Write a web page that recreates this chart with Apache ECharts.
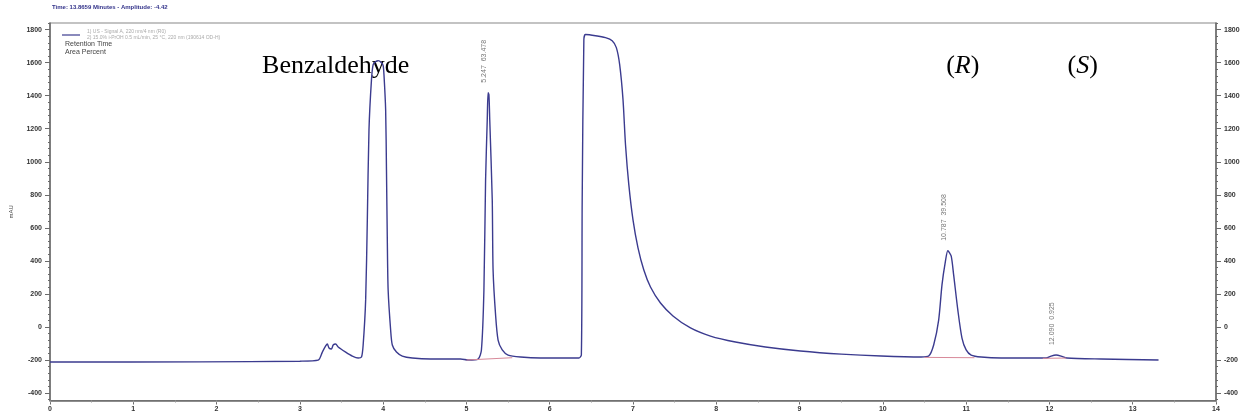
<!DOCTYPE html>
<html>
<head>
<meta charset="utf-8">
<script src="https://cdn.jsdelivr.net/npm/echarts@6/dist/echarts.min.js"></script>
<style>html,body{margin:0;padding:0;background:#fff}#c{width:1248px;height:417px}</style>
</head>
<body>
<div id="c"></div>
<script>
// ---- data (time in min, signal in mAU) ----
const times = [0.00,1.80,3.00,3.22,3.27,3.31,3.33,3.35,3.38,3.40,3.43,3.46,3.55,3.63,3.70,3.74,3.76,3.79,3.81,3.83,3.86,3.88,3.91,3.94,3.98,4.00,4.01,4.03,4.04,4.05,4.06,4.09,4.11,4.16,4.23,4.35,4.57,4.93,5.02,5.14,5.18,5.21,5.23,5.25,5.26,5.27,5.28,5.31,5.32,5.35,5.38,5.43,5.50,5.65,5.89,6.35,6.38,6.39,6.41,6.43,6.55,6.67,6.75,6.80,6.84,6.88,6.91,6.95,7.00,7.06,7.13,7.21,7.33,7.48,7.69,7.93,8.23,8.59,9.01,9.50,9.98,10.46,10.55,10.61,10.67,10.71,10.75,10.78,10.82,10.85,10.90,10.95,11.00,11.06,11.18,11.42,11.96,12.02,12.08,12.14,12.21,12.62,13.31];
const signal = [-212,-211,-207,-201,-152,-115,-103,-127,-133,-109,-103,-121,-152,-176,-188,-182,-109,164,648,1194,1497,1588,1606,1612,1600,1582,1527,1315,951,527,224,-18,-109,-152,-176,-188,-194,-194,-200,-194,-139,224,891,1254,1418,1406,1254,770,345,73,-79,-139,-170,-182,-188,-188,-170,770,1739,1770,1763,1751,1733,1691,1588,1376,1103,860,648,479,345,242,145,67,-6,-55,-91,-121,-145,-164,-176,-182,-176,-109,42,255,394,461,430,315,103,-67,-139,-170,-182,-188,-188,-176,-170,-176,-188,-194,-200];
// integration baselines (red)
const baseTimes = [5.00,5.55,null,10.50,11.10,null,11.92,12.20];
const baseValues = [-200,-186,null,-184,-186,null,-190,-188];
// peak annotations
const peakTimes = [5.26,10.78,12.08];
const peakValues = [1418,461,-170];
const peakLabels = ['5.247  63.478','10.787  39.508','12.090  0.925'];
// compound labels
const compoundNames = ['Benzaldehyde','(R)','(S)'];
// ticks
const yTicks = [-400,-200,0,200,400,600,800,1000,1200,1400,1600,1800];
const yMinorTicks = [];
for (let v = -440; v <= 1840; v += 40) yMinorTicks.push(v);
const xMinorTicks = [];
for (let v = 0; v <= 14; v += 0.5) xMinorTicks.push(v);

const trace = times.map((t, i) => [t, signal[i]]);
const baseLines = baseTimes.map((t, i) => t === null ? [null, null] : [t, baseValues[i]]);

const YMIN = -445, YMAX = 1840;
const axisCol = '#6a6a6a';
const lblStyle = {fontSize: 7, color: '#333', fontWeight: 'bold', fontFamily: 'Liberation Sans', formatter: v => String(v)};

function yAx(pos, major) {
  return {
    type: 'value', position: pos, min: YMIN, max: YMAX,
    axisLine: {show: major, onZero: false, lineStyle: {color: axisCol, width: 1.5}},
    axisTick: {show: true, customValues: major ? yTicks : yMinorTicks, length: major ? 5 : 2, lineStyle: {color: axisCol}},
    axisLabel: major ? Object.assign({show: true, customValues: yTicks, margin: 8}, lblStyle) : {show: false},
    splitLine: {show: false},
    name: (major && pos === 'left') ? 'mAU' : '',
    nameLocation: 'middle', nameGap: 36, nameRotate: 90,
    nameTextStyle: {fontSize: 6, color: '#444', fontFamily: 'Liberation Sans'}
  };
}

const chart = echarts.init(document.getElementById('c'), null, {renderer: 'canvas'});
chart.setOption({
  animation: false,
  backgroundColor: '#fff',
  grid: {left: 50, right: 32, top: 23, bottom: 16.5, show: true, borderColor: '#888', borderWidth: 1.2,
         containLabel: false, outerBoundsMode: 'none'},
  xAxis: [{
    type: 'value', min: 0, max: 14, interval: 1,
    axisLine: {onZero: false, lineStyle: {color: axisCol, width: 1.5}},
    axisTick: {length: 4, lineStyle: {color: axisCol}},
    axisLabel: Object.assign({margin: 5}, lblStyle),
    splitLine: {show: false},
    name: 'min', nameLocation: 'middle', nameGap: 13,
    nameTextStyle: {fontSize: 6, color: '#555', fontFamily: 'Liberation Sans'}
  }, {
    type: 'value', min: 0, max: 14, position: 'bottom',
    axisLine: {show: false, onZero: false},
    axisTick: {show: true, customValues: xMinorTicks, length: 2, lineStyle: {color: '#999'}},
    axisLabel: {show: false}, splitLine: {show: false}
  }],
  yAxis: [yAx('left', true), yAx('right', true), yAx('left', false), yAx('right', false)],
  series: [{
    type: 'line', data: trace, xAxisIndex: 0, yAxisIndex: 0,
    showSymbol: false, smooth: 0.25,
    lineStyle: {color: '#3b3b8f', width: 1.4}
  }, {
    type: 'line', data: baseLines, xAxisIndex: 0, yAxisIndex: 0,
    showSymbol: false, connectNulls: false,
    lineStyle: {color: '#d88a9a', width: 1}
  }]
});

// overlay text placed through the library's scales
const g = [];
g.push({type: 'text', left: 52, top: 4, style: {text: 'Time: 13.8659 Minutes - Amplitude: -4.42', fontSize: 6, fontWeight: 'bold', fill: '#33338a', fontFamily: 'Liberation Sans'}});
g.push({type: 'line', shape: {x1: 62, y1: 35, x2: 80, y2: 35}, style: {stroke: '#3b3b8f', lineWidth: 1.2}});
g.push({type: 'text', left: 87, top: 29, style: {text: '1) US - Signal A, 220 nm/4 nm (R0)', fontSize: 5, fill: '#aaa', fontFamily: 'Liberation Sans'}});
g.push({type: 'text', left: 87, top: 35, style: {text: '2) 15.0% i-PrOH 0.5 mL/min, 25 °C, 220 nm (190614 OD-H)', fontSize: 5, fill: '#aaa', fontFamily: 'Liberation Sans'}});
g.push({type: 'text', left: 65, top: 41, style: {text: 'Retention Time', fontSize: 7, fill: '#444', fontFamily: 'Liberation Sans'}});
g.push({type: 'text', left: 65, top: 49, style: {text: 'Area Percent', fontSize: 7, fill: '#444', fontFamily: 'Liberation Sans'}});

const namePos = [[3.43, 1580], [10.96, 1580], [12.40, 1580]];
compoundNames.forEach((n, i) => {
  const p = chart.convertToPixel({xAxisIndex: 0, yAxisIndex: 0}, namePos[i]);
  const isRS = i > 0;
  g.push({type: 'text', x: p[0], y: p[1], style: {
    rich: {i: {fontStyle: 'italic', fontSize: 26, fontFamily: 'Liberation Serif', fill: '#000'},
           n: {fontSize: 26, fontFamily: 'Liberation Serif', fill: '#000'}},
    text: isRS ? '{n|(}{i|' + n.slice(1, 2) + '}{n|)}' : '{n|' + n + '}',
    align: 'center', verticalAlign: 'middle'}});
});

peakTimes.forEach((t, i) => {
  const p = chart.convertToPixel({xAxisIndex: 0, yAxisIndex: 0}, [t, peakValues[i]]);
  g.push({type: 'text', x: p[0] - 4, y: p[1] - 10, rotation: Math.PI / 2,
    style: {text: peakLabels[i], fontSize: 7, fill: '#777', fontFamily: 'Liberation Sans', align: 'left', verticalAlign: 'middle'}});
});
chart.setOption({graphic: g});
</script>
</body>
</html>
